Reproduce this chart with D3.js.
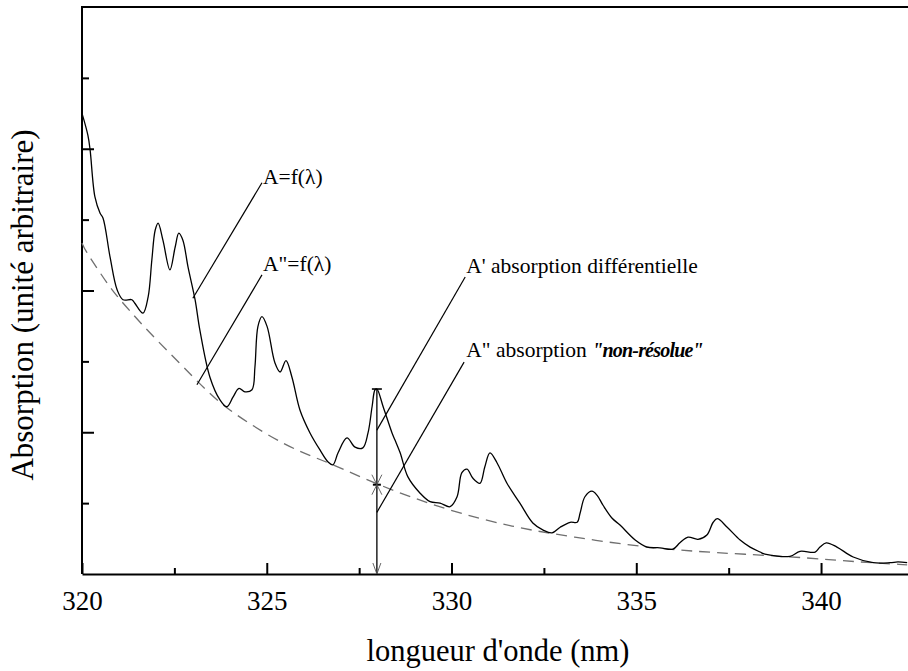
<!DOCTYPE html>
<html>
<head>
<meta charset="utf-8">
<script src="https://cdn.jsdelivr.net/npm/d3@7"></script>
<style>
  html, body { margin: 0; padding: 0; background: #fff; }
  svg { display: block; }
</style>
</head>
<body>
<script>
// Measured spectrum A = f(λ)
const wavelength = [320.00,320.16,320.22,320.35,320.49,320.57,320.76,320.95,321.11,321.35,321.43,321.65,321.79,321.89,321.98,322.06,322.19,322.38,322.52,322.62,322.73,322.87,323.06,323.19,323.46,323.73,323.92,324.09,324.25,324.41,324.60,324.68,324.76,324.87,325.01,325.22,325.36,325.52,325.68,325.90,326.17,326.44,326.66,326.79,326.93,327.17,327.39,327.60,327.74,327.85,327.93,327.98,328.15,328.39,328.47,328.61,328.82,329.15,329.42,329.69,329.96,330.15,330.28,330.42,330.58,330.77,330.90,331.04,331.23,331.50,331.85,332.20,332.48,332.72,332.94,333.21,333.40,333.48,333.61,333.80,333.94,334.10,334.34,334.56,334.97,335.29,335.64,335.99,336.18,336.40,336.67,336.91,337.08,337.19,337.46,337.81,338.08,338.35,338.48,339.16,339.43,339.84,339.97,340.14,340.43,340.87,341.41,341.87,342.08,342.33];
const absorbance = [6.50,6.19,5.98,5.32,5.09,5.02,4.47,4.01,3.87,3.87,3.82,3.68,3.91,4.43,4.85,4.95,4.71,4.29,4.61,4.81,4.71,4.33,3.87,3.44,2.78,2.46,2.36,2.50,2.62,2.57,2.60,2.92,3.49,3.63,3.49,2.98,2.85,3.01,2.78,2.31,1.99,1.75,1.58,1.54,1.71,1.92,1.79,1.78,1.99,2.36,2.60,2.61,2.36,1.99,1.89,1.71,1.37,1.14,1.02,1.00,0.95,1.09,1.43,1.48,1.35,1.28,1.51,1.71,1.57,1.28,1.00,0.72,0.62,0.58,0.66,0.73,0.73,0.86,1.09,1.17,1.11,0.97,0.79,0.69,0.48,0.38,0.37,0.35,0.44,0.52,0.49,0.55,0.73,0.78,0.66,0.48,0.38,0.31,0.28,0.25,0.32,0.31,0.38,0.44,0.38,0.24,0.16,0.16,0.17,0.16];

// Unresolved background A" = f(λ)
const baselineNm = [320.00,320.08,320.49,320.84,321.30,321.76,322.65,323.38,323.92,325.01,325.90,326.79,327.98,329.88,331.66,333.29,335.18,336.54,337.89,339.62,340.97,342.33];
const baselineAbs = [4.67,4.57,4.25,3.98,3.71,3.44,2.97,2.58,2.33,1.96,1.72,1.55,1.26,0.90,0.66,0.52,0.38,0.32,0.28,0.23,0.17,0.13];

// Axis ticks
const xMajorTicks = [320, 325, 330, 335, 340];
const xMinorTicks = [322.5, 327.5, 332.5, 337.5];
const yMajorTicks = [2, 4, 6];
const yMinorTicks = [1, 3, 5, 7];

// Wavelength where the differential absorption is marked
const arrowNm = 327.98;

const SERIF = '"Liberation Serif", "Times New Roman", serif';
const W = 908, H = 671;
const svg = d3.select("body").append("svg").attr("width", W).attr("height", H);
svg.append("rect").attr("width", W).attr("height", H).attr("fill", "#fff");

const x = d3.scaleLinear().domain([320, 342.38]).range([82, 909]);
const y = d3.scaleLinear().domain([0, 8]).range([574, 7]);

// Frame: left and top edges
svg.append("path")
  .attr("d", `M${x(320)},${y(0)}V${y(8)}H${x(342.38)}`)
  .attr("fill", "none").attr("stroke", "#000").attr("stroke-width", 2);

// Bottom axis
const gx = svg.append("g").attr("transform", `translate(0,${y(0)})`)
  .call(d3.axisBottom(x).tickValues(xMajorTicks).tickSize(-11).tickSizeOuter(0)
    .tickPadding(17).tickFormat(d3.format("d")));
gx.select(".domain").attr("stroke-width", 2.2);
gx.selectAll(".tick line").attr("stroke-width", 2);
gx.selectAll(".tick text")
  .style("font-family", SERIF).style("font-size", "27px").attr("fill", "#000");

const gxm = svg.append("g").attr("transform", `translate(0,${y(0)})`)
  .call(d3.axisBottom(x).tickValues(xMinorTicks).tickSize(-6).tickFormat(""));
gxm.select(".domain").remove();
gxm.selectAll(".tick line").attr("stroke-width", 2);

// Left axis (ticks only, no values)
const gy = svg.append("g").attr("transform", `translate(${x(320)},0)`)
  .call(d3.axisLeft(y).tickValues(yMajorTicks).tickSize(-12).tickFormat(""));
gy.select(".domain").remove();
gy.selectAll(".tick line").attr("stroke-width", 2);
const gym = svg.append("g").attr("transform", `translate(${x(320)},0)`)
  .call(d3.axisLeft(y).tickValues(yMinorTicks).tickSize(-7).tickFormat(""));
gym.select(".domain").remove();
gym.selectAll(".tick line").attr("stroke-width", 2);

// Axis titles
svg.append("text")
  .attr("x", 498).attr("y", 661)
  .attr("text-anchor", "middle")
  .style("font-family", SERIF).style("font-size", "30.5px")
  .text("longueur d'onde (nm)");
svg.append("text")
  .attr("transform", "translate(33,305) rotate(-90)")
  .attr("text-anchor", "middle")
  .style("font-family", SERIF).style("font-size", "31px")
  .text("Absorption (unité arbitraire)");

// Curves
const spectrum = d3.zip(wavelength, absorbance);
const background = d3.zip(baselineNm, baselineAbs);

svg.append("path")
  .datum(background)
  .attr("d", d3.line().x(d => x(d[0])).y(d => y(d[1])).curve(d3.curveBasis))
  .attr("fill", "none").attr("stroke", "#6f6f6f").attr("stroke-width", 1.3)
  .attr("stroke-dasharray", "11,7");

svg.append("path")
  .datum(spectrum)
  .attr("d", d3.line().x(d => x(d[0])).y(d => y(d[1])).curve(d3.curveCatmullRom.alpha(0.5)))
  .attr("fill", "none").attr("stroke", "#000").attr("stroke-width", 1.3);

// Differential / unresolved absorption marker at arrowNm
const peakAbs = absorbance[wavelength.indexOf(arrowNm)];
const bgAbs = baselineAbs[baselineNm.indexOf(arrowNm)];
const xa = x(arrowNm), yTop = y(peakAbs), yMid = y(bgAbs), yBot = y(0);
const mk = svg.append("g").attr("fill", "none").attr("stroke", "#000");
mk.append("line").attr("x1", xa).attr("x2", xa).attr("y1", yTop).attr("y2", yBot).attr("stroke-width", 1.3);
mk.append("line").attr("x1", xa - 5).attr("x2", xa + 5).attr("y1", yTop).attr("y2", yTop).attr("stroke-width", 1.6);
mk.append("line").attr("x1", xa - 4).attr("x2", xa + 4).attr("y1", yMid).attr("y2", yMid).attr("stroke-width", 2);
mk.append("path").attr("d", `M${xa - 5},${yMid - 10}L${xa},${yMid}L${xa + 5},${yMid - 10}`).attr("stroke", "#555").attr("stroke-width", 0.9);
mk.append("path").attr("d", `M${xa - 5},${yMid + 10}L${xa},${yMid}L${xa + 5},${yMid + 10}`).attr("stroke", "#555").attr("stroke-width", 0.9);
mk.append("path").attr("d", `M${xa - 4},${yBot - 11}L${xa},${yBot}L${xa + 4},${yBot - 11}`).attr("stroke", "#555").attr("stroke-width", 0.9);

// Callouts: leader from (nm, value) to label anchor (nm, value)
const callouts = [
  { from: [323.00, 3.89], to: [324.87, 5.52], text: [324.90, 5.50], label: "A=f(λ)" },
  { from: [323.11, 2.67], to: [324.87, 4.22], text: [324.90, 4.27], label: "A\"=f(λ)" },
  { from: [arrowNm, 2.03], to: [330.37, 4.19], text: [330.40, 4.25], label: "A' absorption différentielle" },
  { from: [arrowNm, 0.87], to: [330.34, 2.99], text: [330.40, 3.06], label: "A\" absorption\u00a0", italic: "\"non-résolue\"" }
];
const cg = svg.append("g");
callouts.forEach(c => {
  cg.append("line")
    .attr("x1", x(c.from[0])).attr("y1", y(c.from[1]))
    .attr("x2", x(c.to[0])).attr("y2", y(c.to[1]))
    .attr("stroke", "#000").attr("stroke-width", 1.2);
  const t = cg.append("text")
    .attr("x", x(c.text[0])).attr("y", y(c.text[1]))
    .style("font-family", SERIF).style("font-size", "21.5px");
  t.append("tspan").text(c.label);
  if (c.italic) {
    t.append("tspan")
      .style("font-style", "italic").style("font-weight", "bold")
      .style("font-size", "20px").style("letter-spacing", "-0.8px")
      .text(c.italic);
  }
});
</script>
</body>
</html>
